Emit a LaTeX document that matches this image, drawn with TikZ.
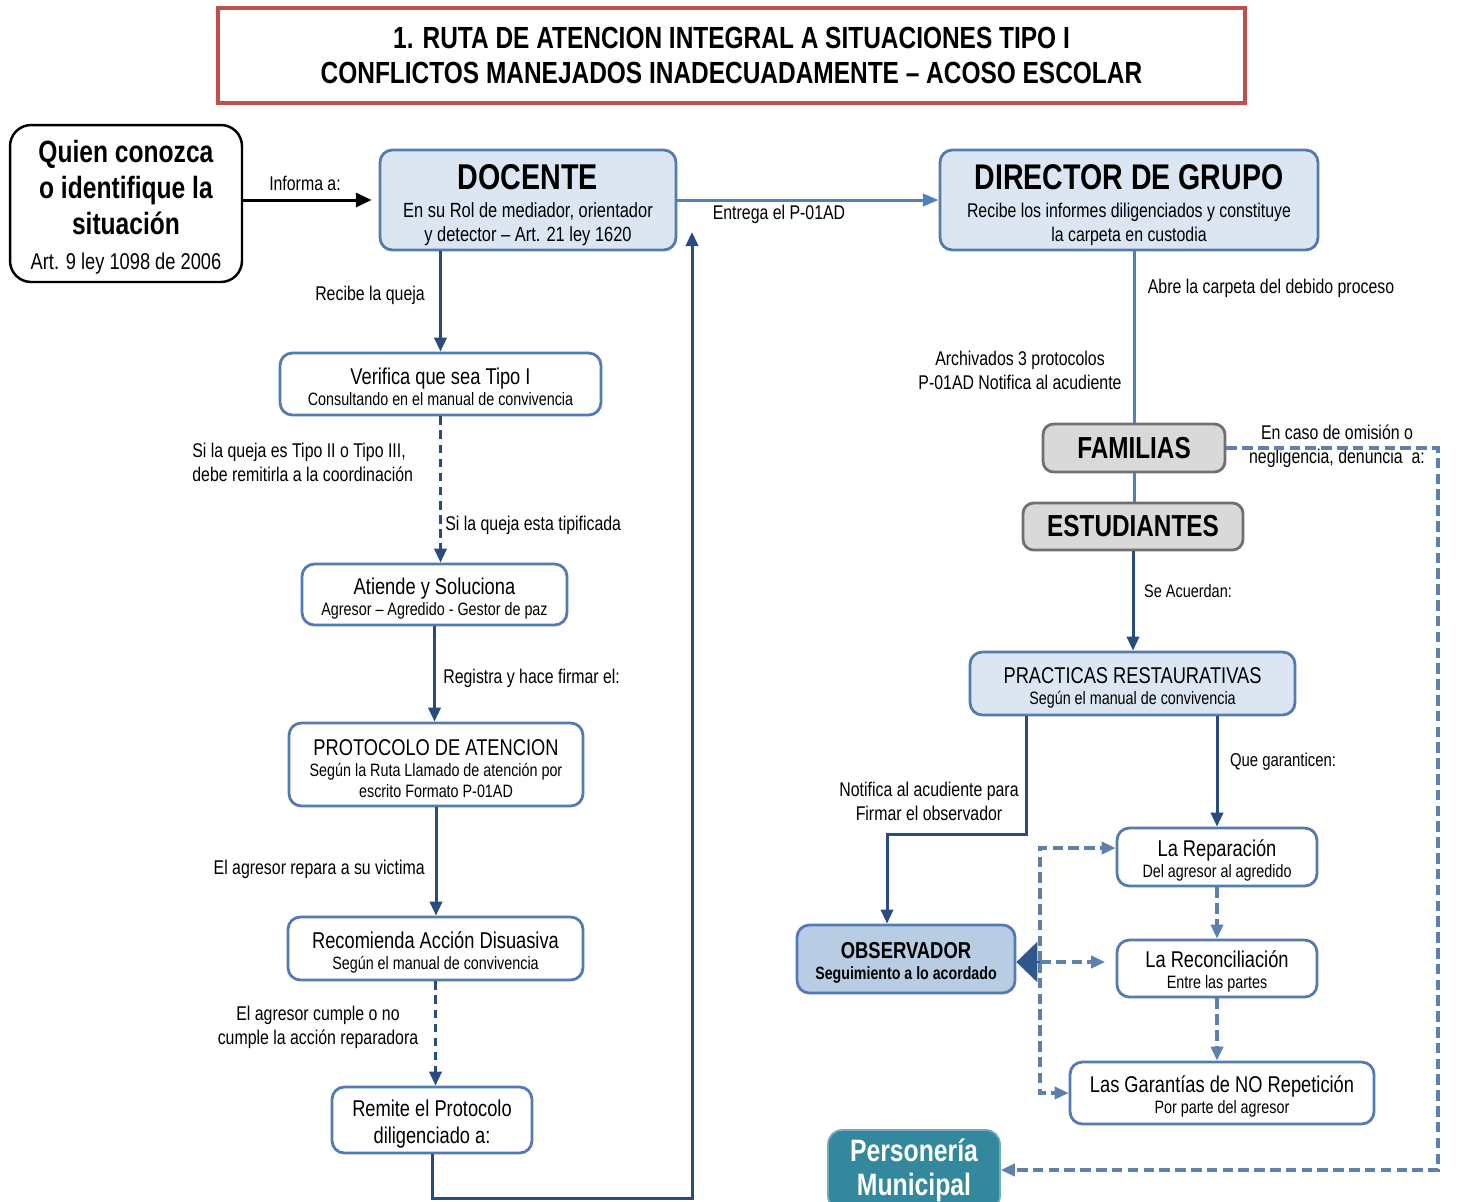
\documentclass[tikz,border=0pt]{standalone}
\usepackage{fontspec}
\setmainfont{Liberation Sans}[FakeStretch=0.8]
\usetikzlibrary{arrows.meta,calc}

\definecolor{rojo}{RGB}{192,80,77}
\definecolor{borde}{RGB}{84,122,178}
\definecolor{celeste}{RGB}{220,230,242}
\definecolor{azulobs}{RGB}{184,204,228}
\definecolor{azuloscuro}{RGB}{40,76,128}
\definecolor{azulmedio}{RGB}{79,129,189}
\definecolor{azulguion}{RGB}{95,128,172}
\definecolor{gris}{RGB}{217,217,217}
\definecolor{grisborde}{RGB}{112,112,112}
\definecolor{verdeazul}{RGB}{52,136,158}

\newcommand{\txhd}{\fontsize{13}{15}\selectfont}
\newcommand{\txsub}{\fontsize{10.2}{12}\selectfont}
\newcommand{\txlbl}{\fontsize{11.3}{13.7}\selectfont}
\newcommand{\alto}[1]{\rule{0pt}{#1}}

\tikzset{
	caja/.style={draw=borde,line width=1.6pt,rounded corners=7pt,fill=white,align=center,inner sep=0pt,font=\txsub},
	cajaazul/.style={caja,fill=celeste},
	cajagris/.style={draw=grisborde,line width=1.6pt,rounded corners=6pt,fill=gris,inner sep=0pt,font=\fontsize{17.3}{20}\selectfont\bfseries},
	flecha/.style={draw=azuloscuro,line width=1.7pt,-{Triangle[length=8pt,width=7pt]}},
	guion/.style={flecha,dash pattern=on 5pt off 3pt},
	guionclaro/.style={draw=azulguion,line width=1.8pt,dash pattern=on 6pt off 3pt,-{Triangle[length=8pt,width=7pt]}},
	etiqueta/.style={font=\txlbl,align=center,inner sep=0pt}
}

\begin{document}
\begin{tikzpicture}[x=0.02cm,y=-0.02cm]
	\useasboundingbox (0,0) rectangle (1459,1201);
	\clip (0,0) rectangle (1459,1201);

	% titulo
	\node[draw=rojo,line width=2.3pt,minimum width=20.54cm,minimum height=1.9cm,align=center,font=\fontsize{17.4}{20}\selectfont\bfseries] (titulo) at (731.5,55.5) {1. RUTA DE ATENCION INTEGRAL A SITUACIONES TIPO I\\CONFLICTOS MANEJADOS INADECUADAMENTE -- ACOSO ESCOLAR};

	% columna izquierda
	\node[draw=black,line width=1.4pt,rounded corners=12pt,minimum width=4.64cm,minimum height=3.14cm,align=center,inner sep=0pt,font=\fontsize{17.5}{20.5}\selectfont] (quien) at (126,203.5) {\alto{17pt}\textbf{Quien conozca}\\\textbf{o identifique la}\\\textbf{situación}\\[-1pt]{\fontsize{13}{15}\selectfont Art. 9 ley 1098 de 2006}};
	\node[cajaazul,minimum width=5.92cm,minimum height=2cm,font=\fontsize{11.7}{13.7}\selectfont] (docente) at (528,200) {{\fontsize{20.4}{22}\selectfont\bfseries\alto{20pt}DOCENTE}\\[2pt]En su Rol de mediador, orientador\\y detector -- Art. 21 ley 1620};
	\node[caja,minimum width=6.42cm,minimum height=1.24cm] (verifica) at (440.5,384) {{\txhd\alto{13pt}Verifica que sea Tipo I}\\Consultando en el manual de convivencia};
	\node[caja,minimum width=5.3cm,minimum height=1.22cm] (atiende) at (434.5,594.5) {{\txhd\alto{14pt}Atiende y Soluciona}\\Agresor -- Agredido - Gestor de paz};
	\node[caja,minimum width=5.88cm,minimum height=1.66cm] (protocolo) at (436,764.5) {{\txhd\alto{13.5pt}PROTOCOLO DE ATENCION}\\Según la Ruta Llamado de atención por\\escrito Formato P-01AD};
	\node[caja,minimum width=5.9cm,minimum height=1.26cm] (recomienda) at (435.5,948.5) {{\txhd\alto{14pt}Recomienda Acción Disuasiva}\\Según el manual de convivencia};
	\node[caja,minimum width=4cm,minimum height=1.32cm,font=\fontsize{13}{15.4}\selectfont] (remite) at (432,1120) {\alto{14pt}Remite el Protocolo\\diligenciado a:};

	% columna derecha
	\node[cajaazul,minimum width=7.56cm,minimum height=2cm,font=\fontsize{11.3}{13.7}\selectfont] (director) at (1129,200) {{\fontsize{20.3}{22}\selectfont\bfseries\alto{20pt}DIRECTOR DE GRUPO}\\[2pt]Recibe los informes diligenciados y constituye\\la carpeta en custodia};
	\node[cajagris,minimum width=3.64cm,minimum height=0.96cm] (familias) at (1134,448) {FAMILIAS};
	\node[cajagris,minimum width=4.4cm,minimum height=0.94cm] (estudiantes) at (1133,526.5) {ESTUDIANTES};
	\node[cajaazul,minimum width=6.5cm,minimum height=1.26cm] (practicas) at (1132.5,683.5) {{\txhd\alto{14pt}PRACTICAS RESTAURATIVAS}\\Según el manual de convivencia};
	\node[caja,minimum width=4cm,minimum height=1.16cm] (reparacion) at (1217,857) {{\txhd\alto{13pt}La Reparación}\\Del agresor al agredido};
	\node[caja,minimum width=4cm,minimum height=1.14cm] (reconciliacion) at (1217,968.5) {{\txhd\alto{13pt}La Reconciliación}\\Entre las partes};
	\node[caja,minimum width=6.08cm,minimum height=1.24cm] (garantias) at (1222,1093) {{\txhd\alto{13pt}Las Garantías de NO Repetición}\\Por parte del agresor};
	\node[caja,fill=azulobs,minimum width=4.36cm,minimum height=1.36cm,font=\fontsize{10.1}{12}\selectfont\bfseries] (observador) at (906,959) {{\fontsize{13.1}{15}\selectfont\alto{14pt}OBSERVADOR}\\Seguimiento a lo acordado};
	\node[draw=verdeazul!70,fill=verdeazul,line width=1pt,rounded corners=8pt,minimum width=3.44cm,minimum height=1.6cm,align=center,inner sep=0pt,text=white,font=\fontsize{17.6}{19.5}\selectfont\bfseries] (personeria) at (914,1170) {Personería\\Municipal};

	% etiquetas
	\node[etiqueta] (informa) at (305,183) {Informa a:};
	\node[etiqueta] (entrega) at (779,214) {Entrega el P-01AD};
	\node[etiqueta] (recibe) at (370,295) {Recibe la queja};
	\node[etiqueta,anchor=west,align=left] (tipodos) at (192,462) {Si la queja es Tipo II o Tipo III,\\debe remitirla a la coordinación};
	\node[etiqueta,anchor=west] (tipificada) at (445,525) {Si la queja esta tipificada};
	\node[etiqueta,anchor=west] (registra) at (443,678) {Registra y hace firmar el:};
	\node[etiqueta,anchor=east] (repara) at (425,869) {El agresor repara a su victima};
	\node[etiqueta] (cumple) at (318,1027) {El agresor cumple o no\\cumple la acción reparadora};
	\node[etiqueta] (abre) at (1271,288) {Abre la carpeta del debido proceso};
	\node[etiqueta] (archivados) at (1020,370) {Archivados 3 protocolos\\P-01AD Notifica al acudiente};
	\node[etiqueta] (omision) at (1337,446) {En caso de omisión o\\negligencia, denuncia\ \ a:};
	\node[etiqueta,font=\fontsize{10.3}{12}\selectfont] (acuerdan) at (1188,591) {Se Acuerdan:};
	\node[etiqueta,font=\fontsize{10.6}{12}\selectfont] (garanticen) at (1283,762) {Que garanticen:};
	\node[etiqueta] (notifica) at (929,801) {Notifica al acudiente para\\Firmar el observador};

	% conectores
	\coordinate (retorno) at (692,232);
	\coordinate (esquina) at (1438,448);
	\coordinate (llave) at (1040,962);
	\draw[black,line width=1.7pt,-{Triangle[length=9pt,width=8pt]},shorten >=4pt] (quien.east |- docente.west) -- (docente.west);
	\draw[azulmedio,line width=1.7pt,-{Triangle[length=9pt,width=7pt]}] (docente.east) -- (director.west);
	\draw[flecha] (docente.south -| verifica.north) -- (verifica.north);
	\draw[guion] (verifica.south) -- (verifica.south |- atiende.north);
	\draw[flecha] (atiende.south) -- (atiende.south |- protocolo.north);
	\draw[flecha] (protocolo.south) -- (protocolo.south |- recomienda.north);
	\draw[guion] (recomienda.south) -- (recomienda.south |- remite.north);
	\draw[flecha] (remite.south) -- ++(0,44) -| (retorno);
	\draw[azulmedio,line width=1.7pt] (familias.north |- director.south) -- (familias.north);
	\draw[azulmedio,line width=1.7pt] (familias.south) -- (familias.south |- estudiantes.north);
	\draw[flecha] (estudiantes.south) -- (estudiantes.south |- practicas.north);
	\draw[flecha] ($(practicas.south west)+(58,0)$) -- ++(0,118) -| ($(observador.north)+(-19,0)$);
	\draw[flecha] (reparacion.north |- practicas.south) -- (reparacion.north);
	\draw[guionclaro] (reparacion.south) -- (reconciliacion.north);
	\draw[guionclaro] (reconciliacion.south) -- (reconciliacion.south |- garantias.north);
	\draw[guionclaro] (llave) |- ($(reparacion.west)+(0,-9)$);
	\draw[guionclaro,shorten >=6pt] (llave) -- (llave -| reconciliacion.west);
	\draw[guionclaro] (llave) |- (garantias.west);
	\draw[azuloscuro!80!azulmedio,line width=1.6pt,-{Triangle[length=0.42cm,width=0.8cm]}] (llave) -- (llave -| observador.east);
	\draw[guionclaro] (familias.east) -- (esquina) |- (personeria.east);
\end{tikzpicture}
\end{document}
